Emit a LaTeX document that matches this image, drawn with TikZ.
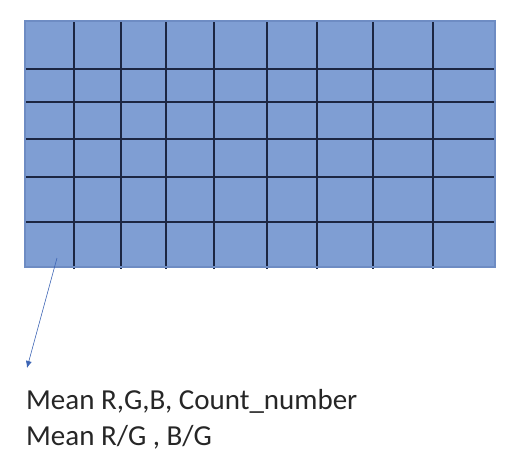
\documentclass[tikz,border=0pt]{standalone}
\usepackage{fontspec}
\setmainfont{Carlito}
\usepackage{xcolor}
\usetikzlibrary{arrows.meta}
\definecolor{cellblue}{RGB}{127,158,211}
\definecolor{gridnavy}{RGB}{28,38,66}
\definecolor{edgeblue}{RGB}{110,140,195}
\definecolor{arrowblue}{RGB}{60,100,180}

\begin{document}
\begin{tikzpicture}[x=1pt,y=-1pt,
    gridline/.style={draw=gridnavy, line width=1.1pt},
    pointer/.style={draw=arrowblue, line width=0.6pt, -{Latex[length=7pt,width=6pt]}},
    caption/.style={anchor=base west, inner sep=0pt, align=left, text=black!85,
      font=\fontsize{29}{36}\selectfont}]
			\useasboundingbox (0,0) rectangle (511,471);
			\fill[cellblue] (25,21) rectangle (495,267);
			\foreach \x in {74,121,166,214,267,317,373,433}
				\draw[gridline] (\x,21) -- (\x,269);
			\foreach \y in {69,102,139,177,222}
				\draw[gridline] (25,\y) -- (495,\y);
			\draw[edgeblue, line width=1.1pt] (25,21) rectangle (495,267);
			\coordinate (cell) at (57,258);
			\coordinate (tip) at (27,368);
			\draw[pointer] (cell) -- (tip);
			% base anchor sits on the last line
			\node[caption] (stats) at (26,445) {Mean R,G,B, Count\_number\\Mean R/G , B/G};
		\end{tikzpicture}
\end{document}
